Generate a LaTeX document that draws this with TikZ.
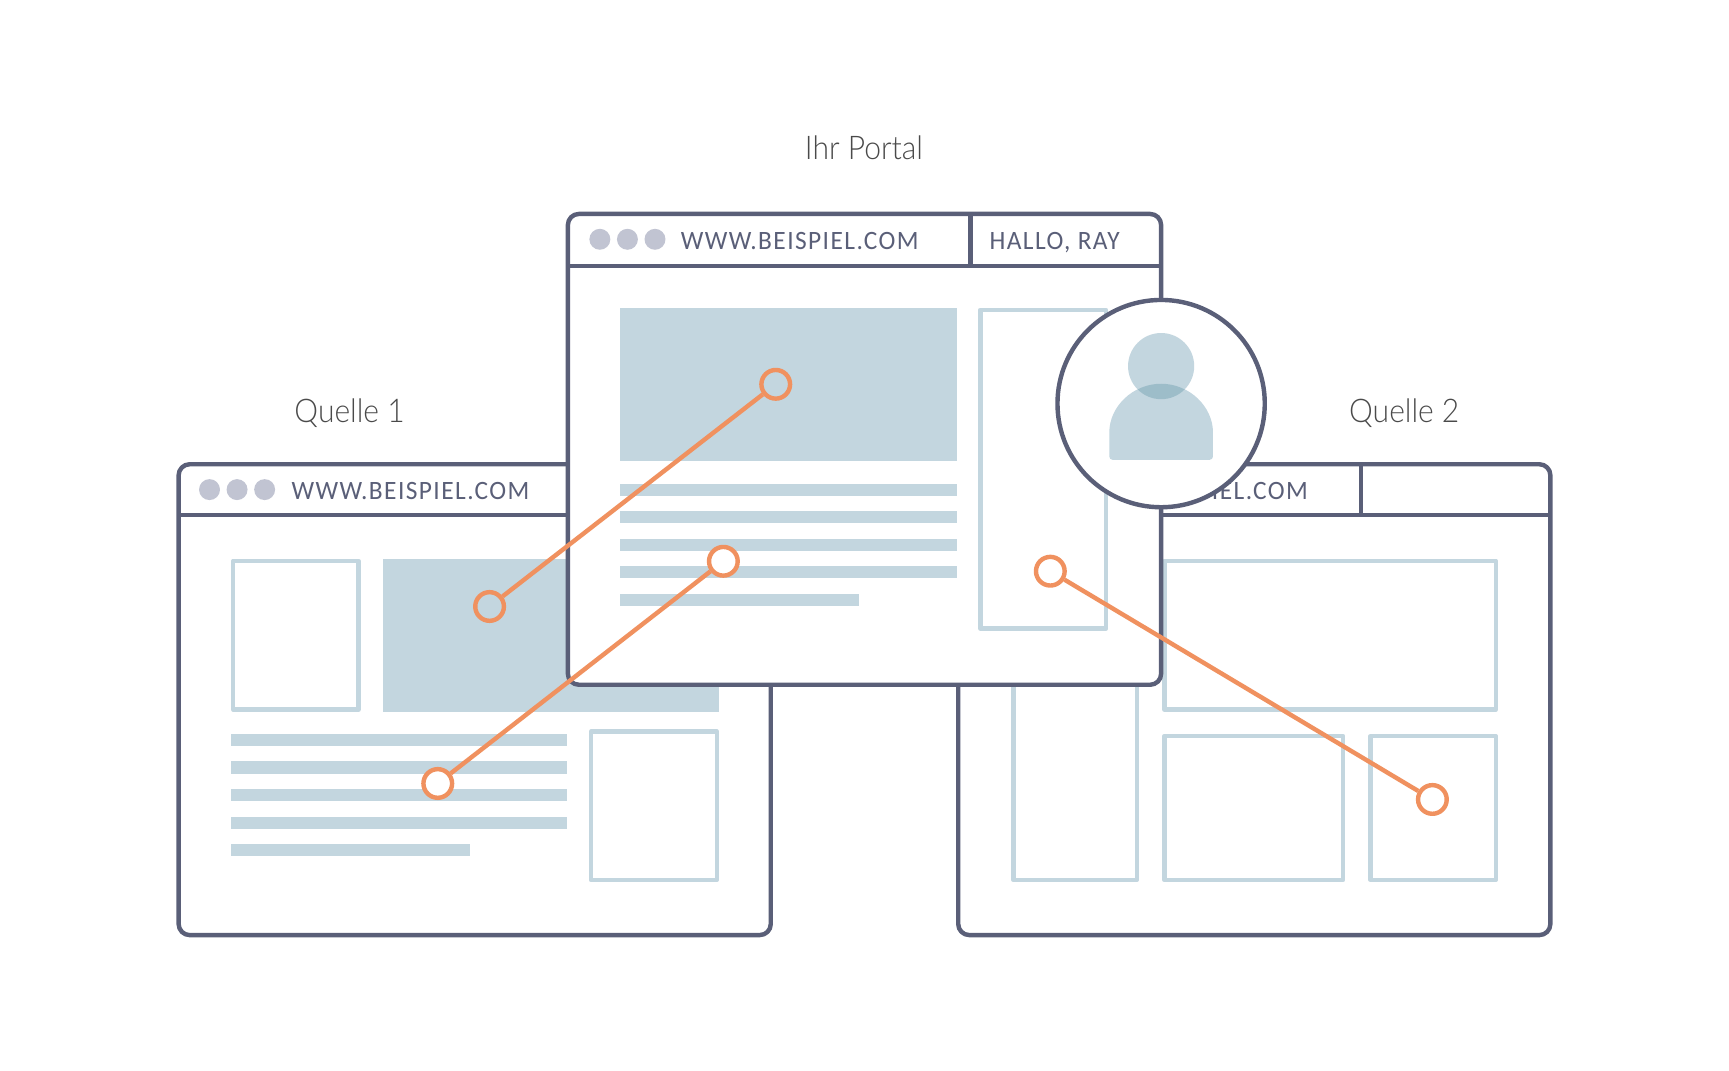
\documentclass[tikz,border=0pt]{standalone}
\usepackage{fontspec}
\setmainfont{Carlito}
\newfontfamily\urlfont[LetterSpace=5.4,FakeStretch=.96]{Carlito}
\newfontfamily\labelfont[FakeStretch=.92]{Lato Light}
\usetikzlibrary{positioning}
\definecolor{frameblue}{HTML}{5A5F78}
\definecolor{dotgray}{HTML}{C1C4D2}
\definecolor{paleblue}{HTML}{C3D6DF}
\definecolor{overlapblue}{HTML}{9DBDC9}
\definecolor{linkorange}{HTML}{F0915F}
\definecolor{labelgray}{HTML}{4A4A4A}
\tikzset{
  framepath/.style={draw=frameblue,line width=2pt,fill=white,rounded corners=5pt},
  frameline/.style={draw=frameblue,line width=2pt},
  paleframe/.style={draw=paleblue,line width=2pt},
  palefill/.style={fill=paleblue},
  windowdot/.style={fill=dotgray},
  urltext/.style={text=frameblue,font=\urlfont\fontsize{12}{14}\selectfont,inner sep=0pt,anchor=base west},
  sourcelabel/.style={text=labelgray,font=\labelfont\fontsize{14.8}{18}\selectfont,inner sep=0pt,anchor=base},
  linkend/.style={circle,draw=linkorange,line width=2pt,minimum size=13pt,inner sep=0pt},
  linkline/.style={draw=linkorange,line width=2pt}
}
\begin{document}
\begin{tikzpicture}[line cap=butt,line join=round,x=.5pt,y=-.5pt]
\useasboundingbox (0,0) rectangle (1568,971.2);
% labels
\node [sourcelabel] (labelportal) at (783.5,145) {Ihr Portal};
\node [sourcelabel] (labelone) at (317,383) {Quelle 1};
\node [sourcelabel] (labeltwo) at (1273.5,383) {Quelle 2};
% Quelle 1
\path [framepath] (162,421) rectangle (699,848);
\draw [frameline] (162,467)-- (699,467);
\fill [windowdot] (190,444) circle (9.5);
\fill [windowdot] (215,444) circle (9.5);
\fill [windowdot] (240,444) circle (9.5);
\node [urltext] (urlone) at (264,453) {WWW.BEISPIEL.COM};
\draw [paleframe] (211.5,508.5) rectangle (325,643.5);
\fill [palefill] (347,506.5) rectangle (652,645.5);
\fill [palefill] (209.5,665.5) rectangle (514,676.5);
\fill [palefill] (209.5,690.5) rectangle (514,701.5);
\fill [palefill] (209.5,715.5) rectangle (514,726.5);
\fill [palefill] (209.5,740.5) rectangle (514,751.5);
\fill [palefill] (209.5,765.5) rectangle (426,776.5);
\draw [paleframe] (536,663.5) rectangle (650,798);
% Quelle 2
\path [framepath] (869,421) rectangle (1406,848);
\draw [frameline] (869,467)-- (1406,467);
\draw [frameline] (1234,421)-- (1234,467);
\node [urltext] (urltwo) at (970,453) {WWW.BEISPIEL.COM};
\draw [paleframe] (919,508.5) rectangle (1031,798);
\draw [paleframe] (1056,508.5) rectangle (1356.5,643.5);
\draw [paleframe] (1056,667.5) rectangle (1218,798);
\draw [paleframe] (1243,667.5) rectangle (1356.5,798);
% Ihr Portal
\path [framepath] (515,194) rectangle (1053,621);
\draw [frameline] (515,241)-- (1053,241);
\draw [frameline] (880,194)-- (880,241);
\fill [windowdot] (544,217) circle (9.5);
\fill [windowdot] (569,217) circle (9.5);
\fill [windowdot] (594,217) circle (9.5);
\node [urltext] (urlportal) at (617,226) {WWW.BEISPIEL.COM};
\node [urltext] (greeting) at (897,226) {HALLO, RAY};
\fill [palefill] (562.5,279) rectangle (867.5,418);
\fill [palefill] (562.5,438.5) rectangle (867.5,449.5);
\fill [palefill] (562.5,463.5) rectangle (867.5,474.5);
\fill [palefill] (562.5,488.5) rectangle (867.5,499.5);
\fill [palefill] (562.5,513.5) rectangle (867.5,524.5);
\fill [palefill] (562.5,538.5) rectangle (779,549.5);
\draw [paleframe] (889,281) rectangle (1003,570);
% user badge
\filldraw [fill=white,draw=frameblue,line width=2pt] (1053,366) circle (94);
\fill [palefill] (1053,332) circle (30);
\fill [palefill,rounded corners=1.5pt] (1006,417)-- (1006,395) arc (180:360:47)-- (1100,417)-- cycle;
\begin{scope}
\clip (1053,332) circle (30);
\fill [overlapblue] (1006,417)-- (1006,395) arc (180:360:47)-- (1100,417)-- cycle;
\end{scope}
% links
\node [linkend] (topfrom) at (444,550) {};
\node [linkend] (topto) at (703.5,348.5) {};
\node [linkend,fill=white] (midfrom) at (397,710.5) {};
\node [linkend,fill=white] (midto) at (656,509) {};
\node [linkend] (sidefrom) at (952.5,518) {};
\node [linkend] (sideto) at (1299,725) {};
\draw [linkline] (topfrom)-- (topto);
\draw [linkline] (midfrom)-- (midto);
\draw [linkline] (sidefrom)-- (sideto);
\end{tikzpicture}
\end{document}
